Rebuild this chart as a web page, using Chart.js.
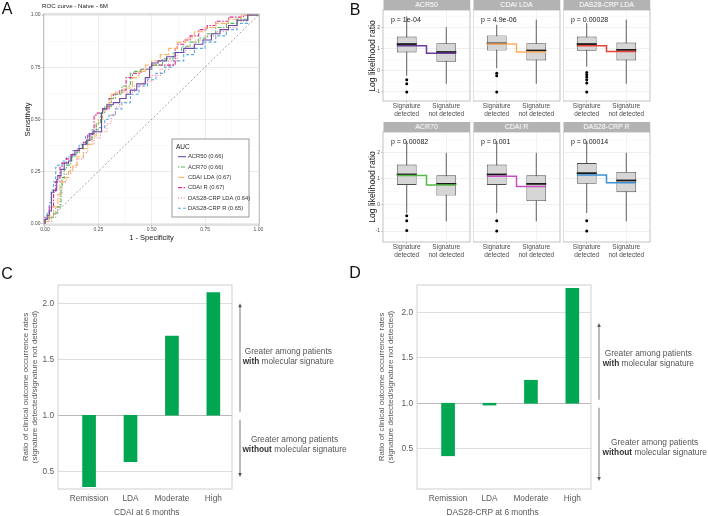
<!DOCTYPE html>
<html><head><meta charset="utf-8">
<script src="https://cdn.jsdelivr.net/npm/chart.js@4.4.1/dist/chart.umd.min.js"></script>
<style>
html,body{margin:0;padding:0;background:#fff;}
#fig{position:relative;width:708px;height:516px;overflow:hidden;background:#fff;font-family:"Liberation Sans",Arial,Helvetica,sans-serif;}
#fig canvas{position:absolute;}
.t{position:absolute;white-space:nowrap;line-height:1;}
</style></head><body><div id="fig"></div>
<script>
// ================= DATA =================
// Panel A : ROC curves  ([1 - specificity, sensitivity] points)
const rocNames = ['ACR50','ACR70','CDAI LDA','CDAI R','DAS28-CRP LDA','DAS28-CRP R'];
const rocAuc = [0.66, 0.66, 0.67, 0.67, 0.64, 0.65];
const rocTicks = [0, 0.25, 0.5, 0.75, 1];
const rocMinorTicks = [0.125, 0.375, 0.625, 0.875];
const rocACR50 = [[0,0],[0.01,0.02],[0.02,0.04],[0.03,0.06],[0.04,0.15],[0.055,0.16],[0.06,0.21],[0.075,0.23],[0.09,0.26],[0.11,0.29],[0.125,0.30],[0.14,0.33],[0.16,0.35],[0.175,0.36],[0.195,0.38],[0.21,0.40],[0.225,0.43],[0.265,0.44],[0.27,0.53],[0.29,0.55],[0.32,0.57],[0.35,0.58],[0.38,0.60],[0.40,0.62],[0.43,0.64],[0.47,0.67],[0.49,0.70],[0.50,0.75],[0.53,0.77],[0.57,0.78],[0.61,0.80],[0.65,0.82],[0.70,0.84],[0.74,0.86],[0.78,0.88],[0.82,0.91],[0.86,0.93],[0.90,0.95],[0.95,0.975],[1,1]];
const rocACR70 = [[0,0],[0.02,0.02],[0.04,0.03],[0.06,0.05],[0.075,0.08],[0.08,0.18],[0.09,0.22],[0.1,0.26],[0.12,0.28],[0.14,0.32],[0.16,0.34],[0.18,0.36],[0.2,0.38],[0.22,0.40],[0.24,0.44],[0.26,0.48],[0.28,0.53],[0.31,0.56],[0.33,0.60],[0.36,0.62],[0.40,0.66],[0.42,0.72],[0.45,0.73],[0.5,0.74],[0.55,0.76],[0.6,0.79],[0.64,0.82],[0.68,0.85],[0.72,0.87],[0.76,0.89],[0.8,0.91],[0.85,0.94],[0.9,0.96],[0.95,0.98],[1,1]];
const rocCDAILDA = [[0,0],[0.02,0.01],[0.04,0.04],[0.06,0.08],[0.07,0.14],[0.09,0.2],[0.11,0.22],[0.13,0.25],[0.15,0.28],[0.18,0.32],[0.2,0.36],[0.22,0.38],[0.24,0.42],[0.25,0.47],[0.27,0.5],[0.29,0.54],[0.31,0.58],[0.33,0.62],[0.37,0.63],[0.41,0.65],[0.44,0.70],[0.47,0.73],[0.5,0.76],[0.54,0.78],[0.58,0.81],[0.62,0.84],[0.66,0.87],[0.7,0.89],[0.75,0.92],[0.8,0.94],[0.86,0.96],[0.92,0.98],[1,1]];
const rocCDAIR = [[0,0],[0.02,0.03],[0.04,0.08],[0.05,0.15],[0.07,0.2],[0.08,0.27],[0.1,0.29],[0.12,0.31],[0.15,0.33],[0.18,0.36],[0.2,0.39],[0.23,0.43],[0.245,0.52],[0.27,0.53],[0.3,0.55],[0.32,0.6],[0.35,0.62],[0.38,0.64],[0.41,0.70],[0.45,0.72],[0.5,0.74],[0.61,0.76],[0.62,0.84],[0.65,0.86],[0.68,0.88],[0.72,0.9],[0.76,0.93],[0.8,0.95],[0.86,0.97],[0.93,0.99],[1,1]];
const rocDASLDA = [[0,0],[0.03,0.01],[0.05,0.03],[0.07,0.08],[0.08,0.14],[0.1,0.2],[0.12,0.24],[0.15,0.27],[0.18,0.31],[0.2,0.34],[0.23,0.38],[0.26,0.41],[0.29,0.44],[0.31,0.48],[0.33,0.52],[0.35,0.56],[0.38,0.6],[0.42,0.63],[0.46,0.66],[0.5,0.68],[0.54,0.71],[0.58,0.74],[0.62,0.78],[0.66,0.82],[0.7,0.85],[0.75,0.88],[0.8,0.9],[0.85,0.92],[0.9,0.94],[0.95,0.97],[1,1]];
const rocDASR = [[0,0],[0.01,0.02],[0.02,0.05],[0.03,0.1],[0.04,0.16],[0.05,0.2],[0.06,0.27],[0.08,0.28],[0.1,0.3],[0.13,0.32],[0.16,0.35],[0.19,0.38],[0.22,0.42],[0.25,0.45],[0.28,0.46],[0.3,0.5],[0.33,0.52],[0.36,0.55],[0.4,0.58],[0.44,0.62],[0.48,0.66],[0.52,0.69],[0.56,0.72],[0.6,0.75],[0.65,0.78],[0.7,0.81],[0.75,0.84],[0.8,0.87],[0.85,0.9],[0.9,0.93],[0.95,0.96],[1,1]];

// Panel B : boxplots of log likelihood ratio, per facet [signature detected, signature not detected]
const facetNames = ['ACR50','CDAI LDA','DAS28-CRP LDA','ACR70','CDAI R','DAS28-CRP R'];
const facetPValues = ['p = 1e-04','p = 4.9e-06','p = 0.00028','p = 0.00082','p = 0.001','p = 0.00014'];
const groupLabels = [['Signature','detected'],['Signature','not detected']];
const boxWhiskerLow  = [[-0.25,-0.62],[0.10,-0.62],[0.18,-0.62],[-0.31,-0.63],[-0.31,-0.63],[-0.31,-0.63]];
const boxQ1          = [[0.83,0.40],[0.92,0.46],[0.91,0.46],[0.77,0.36],[0.77,0.15],[0.81,0.49]];
const boxMedian      = [[1.22,0.85],[1.25,0.92],[1.22,0.95],[1.17,0.81],[1.17,0.81],[1.22,0.94]];
const boxQ3          = [[1.57,1.26],[1.62,1.26],[1.57,1.29],[1.55,1.14],[1.55,1.14],[1.61,1.27]];
const boxWhiskerHigh = [[2.50,2.00],[2.11,2.35],[2.19,2.35],[2.45,2.00],[2.45,2.00],[2.45,2.00]];
const groupMeans     = [[1.14,0.80],[1.22,0.85],[1.14,0.88],[1.13,0.77],[1.10,0.71],[1.15,0.85]];
const detectedOutliers = [[-0.44,-0.62,-1.0],[-0.13,-0.25,-1.0],[-0.10,-0.20,-0.31,-0.44,-0.59,-1.0],[-0.41,-0.60,-0.98],[-0.60,-1.0],[-0.60,-1.0]];
const facetYTicks = [-1,-0.5,0,0.5,1,1.5,2,2.5];

// Panels C & D : ratio of clinical outcome occurrence rates
const outcomeCategories = ['Remission','LDA','Moderate','High'];
const cdaiRatio  = [0.363, 0.586, 1.708, 2.095];
const das28Ratio = [0.42, 0.98, 1.254, 2.27];
const ratioBaseline = 1.0;
const ratioTicks = [0.5, 1.0, 1.5, 2.0];

// ================= STYLE / LAYOUT =================
const FONT = "'Liberation Sans', Arial, Helvetica, sans-serif";
Chart.defaults.font.family = FONT;
Chart.defaults.plugins.legend.display = false;
Chart.defaults.plugins.tooltip.enabled = false;
Chart.defaults.layout.autoPadding = false;
const fig = document.getElementById('fig');

function txt(html, x, y, size, o = {}) {
  const d = document.createElement('div');
  d.className = 't';
  d.innerHTML = html;
  d.style.left = x + 'px'; d.style.top = y + 'px';
  d.style.fontSize = size + 'px';
  d.style.color = o.color || '#000';
  if (o.weight) d.style.fontWeight = o.weight;
  if (o.lh) d.style.lineHeight = o.lh + 'px';
  d.style.textAlign = 'center';
  const ax = o.align === 'left' ? '0' : '-50%';
  d.style.transform = `translate(${ax},-50%)` + (o.rot ? ` rotate(${o.rot}deg)` : '');
  if (o.css) Object.assign(d.style, o.css);
  fig.appendChild(d);
  return d;
}
function buildChart(left, top, w, h, config) {
  const c = document.createElement('canvas');
  c.width = w; c.height = h;
  c.style.left = left + 'px'; c.style.top = top + 'px';
  c.style.width = w + 'px'; c.style.height = h + 'px';
  fig.appendChild(c);
  config.options = Object.assign({responsive: false, animation: false, devicePixelRatio: 1, events: []}, config.options);
  return new Chart(c.getContext('2d'), config);
}
const framePlugin = {
  id: 'frame',
  afterDraw(chart, args, o) {
    const {ctx, chartArea: a} = chart;
    ctx.save();
    ctx.strokeStyle = o.color || '#b3b3b3';
    ctx.lineWidth = o.width || 0.8;
    ctx.strokeRect(a.left, a.top, a.width, a.height);
    ctx.restore();
  }
};

// ================= PANEL A =================
const rocSeriesData = [rocACR50, rocACR70, rocCDAILDA, rocCDAIR, rocDASLDA, rocDASR];
const rocColors = ['#6b4aa6', '#5ab55a', '#fbb36a', '#e0288e', '#f37a8a', '#58a9dd'];
const rocDashes = [[], [1.5,1.5,4,1.5], [6,2], [4,1.5,1.5,1.5], [1,1.8], [3,2]];
const rocDatasets = rocNames.map((n, i) => ({
  label: `${n} (${rocAuc[i].toFixed(2)})`,
  inLegend: true,
  data: rocSeriesData[i].map(p => ({x: p[0], y: p[1]})),
  borderColor: rocColors[i], borderDash: rocDashes[i], borderWidth: 1.1,
  pointRadius: 0, stepped: 'after', order: i
}));
rocDatasets.push({label: 'chance', data: [{x: 0, y: 0}, {x: 1, y: 1}], borderColor: '#8c8c8c', borderDash: [2, 2], borderWidth: 0.8, pointRadius: 0, order: 20});

const rocLegendPlugin = {
  id: 'rocLegend',
  afterDraw(chart) {
    const {ctx, chartArea: a} = chart;
    const L = a.right - 87.5, T = a.top + 125, W = 77, H = 78;
    ctx.save();
    ctx.fillStyle = '#fff'; ctx.fillRect(L, T, W, H);
    ctx.strokeStyle = '#808080'; ctx.lineWidth = 0.8; ctx.strokeRect(L, T, W, H);
    ctx.textBaseline = 'middle'; ctx.textAlign = 'left';
    ctx.fillStyle = '#1a1a1a'; ctx.font = `6.5px ${FONT}`;
    ctx.fillText('AUC', L + 4, T + 8);
    chart.data.datasets.filter(d => d.inLegend).forEach((d, i) => {
      const y = T + 17.7 + i * 10.3;
      ctx.strokeStyle = d.borderColor; ctx.lineWidth = 1.1; ctx.setLineDash(d.borderDash || []);
      ctx.beginPath(); ctx.moveTo(L + 6, y); ctx.lineTo(L + 14, y); ctx.stroke();
      ctx.setLineDash([]);
      ctx.fillStyle = '#333'; ctx.font = `5.8px ${FONT}`;
      ctx.fillText(d.label, L + 16, y);
    });
    ctx.restore();
  }
};
const rocAll = rocTicks.concat(rocMinorTicks).sort((a, b) => a - b);
const isMajorRoc = v => rocTicks.some(t => Math.abs(t - v) < 1e-9);
function rocAxis(kind) {
  const ax = {
    type: 'linear', min: -0.007, max: 1.005, border: {display: false},
    grid: {
      color: c => isMajorRoc(c.tick.value) ? '#e4e4e4' : '#f1f1f1',
      lineWidth: c => isMajorRoc(c.tick.value) ? 0.7 : 0.45,
      tickLength: 2,
      tickColor: c => isMajorRoc(c.tick.value) ? '#b3b3b3' : 'rgba(0,0,0,0)'
    },
    afterBuildTicks: s => { s.ticks = rocAll.map(v => ({value: v})); },
    ticks: {autoSkip: false, maxRotation: 0, font: {size: 5}, color: '#4d4d4d',
      callback: v => isMajorRoc(v) ? v.toFixed(2) : ''}
  };
  if (kind === 'x') {
    ax.afterFit = s => { s.height = 25; };
    ax.ticks.padding = 0;
    ax.title = {display: true, text: '1 - Specificity', font: {size: 7.5}, color: '#1a1a1a', padding: {top: 0, bottom: 7.2}};
  } else {
    ax.afterFit = s => { s.width = 43.5; };
    ax.ticks.padding = 1;
    ax.title = {display: true, text: 'Sensitivity', font: {size: 7.5}, color: '#1a1a1a', padding: {top: 23.8, bottom: 0}};
  }
  return ax;
}
buildChart(0, 0, 268, 250, {
  type: 'line',
  data: {datasets: rocDatasets},
  options: {
    layout: {autoPadding: false, padding: {top: 14, right: 8.5, left: 0, bottom: 0}},
    scales: {x: rocAxis('x'), y: rocAxis('y')},
    plugins: {frame: {color: '#b3b3b3'}}
  },
  plugins: [framePlugin, rocLegendPlugin]
});
txt('ROC curve - Naive - 6M', 42, 6, 6.2, {align: 'left', color: '#1a1a1a'});

// ================= PANEL B =================
const facetColors = ['#6a3d9a', '#fdae61', '#e8423a', '#55b748', '#c64fbf', '#3d8fd6'];
const facetCols = [[383, 470], [473, 560], [563, 650]];
const facetRows = [[10, 101], [132, 242]];
const groupX = [1, 2];
const halfBox = 0.25;
for (let i = 0; i < 6; i++) {
  const row = Math.floor(i / 3), col = i % 3;
  const [pl, pr] = facetCols[col];
  const [pt, pb] = facetRows[row];
  const yW = col === 0 ? 11 : 0;
  const cl = pl - yW, ct = pt - 6;
  const cw = pr + 2 - cl, ch = pb + 18 - ct;
  const m = groupMeans[i];
  const meanPts = [{x: groupX[0] - halfBox, y: m[0]}, {x: 1.5, y: m[0]}, {x: 1.5, y: m[1]}, {x: groupX[1] + halfBox, y: m[1]}];
  const whiskers = [
    {x: groupX[0], y: boxWhiskerLow[i][0]}, {x: groupX[0], y: boxWhiskerHigh[i][0]},
    {x: 1.5, y: null},
    {x: groupX[1], y: boxWhiskerLow[i][1]}, {x: groupX[1], y: boxWhiskerHigh[i][1]}
  ];
  buildChart(cl, ct, cw, ch, {
    type: 'bar',
    data: {datasets: [
      {type: 'line', data: detectedOutliers[i].map(v => ({x: groupX[0], y: v})), showLine: false,
        pointRadius: 1.5, pointBackgroundColor: '#000', pointBorderWidth: 0, order: 0},
      {type: 'line', data: meanPts, borderColor: facetColors[i], borderWidth: 1.5, pointRadius: 0, order: 1},
      {type: 'line', data: groupX.map((x, k) => ({x, y: boxMedian[i][k]})), showLine: false,
        pointStyle: 'line', pointRadius: 10, pointBorderWidth: 1.8, pointBorderColor: '#1a1a1a', order: 2},
      {type: 'bar', data: groupX.map((x, k) => ({x, y: [boxQ1[i][k], boxQ3[i][k]]})),
        backgroundColor: '#d6d6d6', borderColor: '#4d4d4d', borderWidth: 0.9, borderSkipped: false,
        grouped: false, barPercentage: 0.5, categoryPercentage: 1, order: 3},
      {type: 'line', data: whiskers, borderColor: '#4d4d4d', borderWidth: 0.9, pointRadius: 0, spanGaps: false, order: 4}
    ]},
    options: {
      layout: {autoPadding: false, padding: {top: 6, right: 2, left: 0, bottom: 0}},
      scales: {
        x: {type: 'linear', min: 0.4, max: 2.6, offset: false, border: {display: false},
          grid: {offset: false, color: '#ebebeb', lineWidth: 0.6, tickLength: 2, tickColor: '#b3b3b3'},
          afterBuildTicks: s => { s.ticks = groupX.map(v => ({value: v})); },
          afterFit: s => { s.height = 18; },
          ticks: {autoSkip: false, maxRotation: 0, padding: 0, font: {size: 6.5, lineHeight: 1.12}, color: '#4d4d4d',
            callback: v => groupLabels[v - 1]}},
        y: {type: 'linear', min: -1.42, max: 2.8, border: {display: false},
          grid: {
            color: c => Number.isInteger(c.tick.value) ? '#e6e6e6' : '#f3f3f3',
            lineWidth: c => Number.isInteger(c.tick.value) ? 0.6 : 0.4,
            drawTicks: col === 0, tickLength: 2,
            tickColor: c => Number.isInteger(c.tick.value) ? '#b3b3b3' : 'rgba(0,0,0,0)'
          },
          afterBuildTicks: s => { s.ticks = facetYTicks.map(v => ({value: v})); },
          afterFit: s => { s.width = yW; },
          ticks: {display: col === 0, autoSkip: false, padding: 1, font: {size: 5}, color: '#4d4d4d',
            callback: v => Number.isInteger(v) ? String(v) : ''}}
      },
      plugins: {frame: {color: '#b3b3b3'}}
    },
    plugins: [framePlugin]
  });
  txt(facetNames[i], (pl + pr) / 2, pt - 5, 7, {color: '#fff',
    css: {width: (pr - pl) + 'px', height: '10px', lineHeight: '10px', background: '#b3b3b3'}});
  txt(facetPValues[i], pl + 8, pt + 8.5, 7, {align: 'left', color: '#1a1a1a'});
}
txt('Log likelihood ratio', 371.7, 55.5, 8.6, {rot: -90, color: '#222'});
txt('Log likelihood ratio', 371.7, 187, 8.6, {rot: -90, color: '#222'});

// ================= PANELS C & D =================
const arrowPlugin = {
  id: 'arrows',
  afterDraw(chart, args, o) {
    const {ctx, chartArea: a, scales: {y}} = chart;
    const x = a.right + 8;
    const p1 = y.getPixelForValue(ratioBaseline);
    const pu = y.getPixelForValue(o.up), pd = y.getPixelForValue(o.down);
    ctx.save();
    ctx.strokeStyle = '#555'; ctx.fillStyle = '#555'; ctx.lineWidth = 0.8;
    ctx.beginPath(); ctx.moveTo(x, p1 - 3.5); ctx.lineTo(x, pu + 3); ctx.stroke();
    ctx.beginPath(); ctx.moveTo(x, pu); ctx.lineTo(x - 1.8, pu + 4); ctx.lineTo(x + 1.8, pu + 4); ctx.closePath(); ctx.fill();
    ctx.beginPath(); ctx.moveTo(x, p1 + 4.5); ctx.lineTo(x, pd - 3); ctx.stroke();
    ctx.beginPath(); ctx.moveTo(x, pd); ctx.lineTo(x - 1.8, pd - 4); ctx.lineTo(x + 1.8, pd - 4); ctx.closePath(); ctx.fill();
    ctx.restore();
  }
};
function ratioChart(left, vals, yMin, yMax, up, down, titlePad) {
  buildChart(left, 275, 246, 241, {
    type: 'bar',
    data: {datasets: [{
      data: outcomeCategories.map((c, k) => ({x: k + 1, y: [ratioBaseline, vals[k]]})),
      backgroundColor: '#00a651', borderWidth: 0, barThickness: 13, grouped: false
    }]},
    options: {
      layout: {autoPadding: false, padding: {top: 10, right: 14, left: 0, bottom: 0}},
      scales: {
        x: {type: 'linear', min: 0.25, max: 4.45, offset: false, border: {display: false},
          grid: {display: false, drawTicks: false, offset: false},
          afterBuildTicks: s => { s.ticks = outcomeCategories.map((c, k) => ({value: k + 1})); },
          afterFit: s => { s.height = 27; },
          ticks: {autoSkip: false, maxRotation: 0, padding: 4.3, font: {size: 8.3}, color: '#595959',
            callback: v => outcomeCategories[v - 1]}},
        y: {type: 'linear', min: yMin, max: yMax, border: {display: false},
          grid: {drawTicks: false, color: c => c.tick.value === ratioBaseline ? '#a8a8a8' : '#d6d6d6', lineWidth: 0.8},
          afterBuildTicks: s => { s.ticks = ratioTicks.map(v => ({value: v})); },
          afterFit: s => { s.width = 58; },
          ticks: {autoSkip: false, padding: 4, font: {size: 8.3}, color: '#595959', callback: v => v.toFixed(1)},
          title: {display: true, text: ['Ratio of clinical outcome occurrence rates', '(signature detected/signature not detected)'],
            font: {size: 8, lineHeight: 1.125}, color: '#595959', padding: {top: titlePad, bottom: 0}}}
      },
      plugins: {frame: {color: '#c4c4c4'}, arrows: {up, down}}
    },
    plugins: [framePlugin, arrowPlugin]
  });
}
ratioChart(0, cdaiRatio, 0.342, 2.163, 2.0, 0.45, 21);
ratioChart(359, das28Ratio, 0.053, 2.306, 1.886, 0.141, 18.5);
txt('CDAI at 6 months', 146.7, 511.8, 8.3, {color: '#595959'});
txt('DAS28-CRP at 6 months', 492.5, 511.8, 8.3, {color: '#595959'});

const aCol = '#555';
txt('Greater among patients<br><b style="color:#333">with</b> molecular signature', 288.3, 356, 8.3, {color: aCol, lh: 10});
txt('Greater among patients<br><b style="color:#333">without</b> molecular signature', 294.5, 444, 8.3, {color: aCol, lh: 10});
txt('Greater among patients<br><b style="color:#333">with</b> molecular signature', 648.3, 358, 8.3, {color: aCol, lh: 10});
txt('Greater among patients<br><b style="color:#333">without</b> molecular signature', 654.7, 446.7, 8.3, {color: aCol, lh: 10});

// Panel letters
txt('A', 7, 8.5, 16, {color: '#111'});
txt('B', 355, 10, 16, {color: '#111'});
txt('C', 7, 274, 16, {color: '#111'});
txt('D', 355, 273, 16, {color: '#111'});
</script></body></html>
